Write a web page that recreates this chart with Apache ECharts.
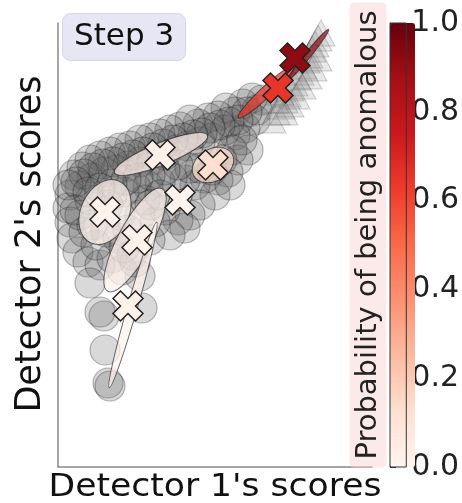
<!DOCTYPE html>
<html>
<head>
<meta charset="utf-8">
<script src="https://cdn.jsdelivr.net/npm/echarts@6/dist/echarts.min.js"></script>
<style>html,body{margin:0;padding:0;background:#fff;}#c{width:462px;height:503px;}</style>
</head>
<body>
<div id="c"></div>
<script>
// Normal points (circles): Detector 1 score, Detector 2 score
const circleX = [2.04,1.94,1.85,1.77,1.68,1.60,1.50,1.40,1.32,1.22,1.12,1.02,0.92,0.82,0.72,0.62,0.52,0.42,0.32,0.24,0.16,
  1.97,1.87,1.77,1.67,1.54,1.42,1.30,1.18,1.07,0.94,0.82,0.70,0.58,0.46,0.34,0.22,0.12,
  1.90,1.80,1.70,1.60,1.47,1.37,1.27,1.14,1.02,0.90,0.78,0.66,0.54,
  1.57,1.42,1.32,1.20,1.07,0.97,1.27,1.12,0.92,
  0.10,0.12,0.14,0.20,0.30,0.42,0.54,0.38,0.26,0.22,0.32,0.50,0.62,0.60,0.70,0.82,0.87,0.74,
  0.32,0.46,0.42,0.82,0.84,0.47,0.50,0.52,0.64,0.77,
  1.99,1.89,1.80,1.71,1.62,1.52,1.44,1.35,1.25,1.15,1.05,0.95,0.85,0.75,0.65,0.55,0.45,0.35,0.26,0.18,0.10,
  1.84,1.74,1.64,1.54,1.42,1.32,1.20,1.07,0.92,0.80,0.68,0.54,0.42,0.30,0.17,0.34,0.48,0.66,0.92,1.02,1.72];
const circleY = [3.67,3.69,3.63,3.55,3.59,3.51,3.49,3.43,3.47,3.40,3.37,3.33,3.29,3.27,3.21,3.19,3.15,3.11,3.07,3.00,2.92,
  3.47,3.39,3.32,3.37,3.29,3.25,3.21,3.17,3.12,3.07,3.05,3.01,2.97,2.95,2.89,2.81,2.72,
  3.17,3.07,2.95,2.87,2.89,2.82,2.87,2.89,2.85,2.81,2.79,2.75,2.72,
  2.72,2.62,2.52,2.47,2.57,2.45,2.39,2.32,2.27,
  2.59,2.45,2.29,2.15,2.05,2.02,2.09,2.22,2.35,2.52,2.67,2.62,2.52,2.29,2.37,2.52,2.67,2.12,
  1.84,1.51,1.55,1.91,1.59,1.17,0.84,0.81,1.97,2.05,
  3.57,3.55,3.47,3.45,3.42,3.39,3.34,3.32,3.29,3.27,3.23,3.19,3.15,3.12,3.09,3.05,3.03,2.99,2.93,2.85,2.82,
  3.27,3.17,3.07,2.97,2.99,2.99,3.02,2.97,2.92,2.89,2.87,2.83,2.79,2.75,2.57,2.42,2.35,2.19,2.62,2.72,2.82];
// Anomalous points (triangles)
const triX = [2.14,2.18,2.23,2.26,2.29,2.32,2.36,2.39,2.42,2.45,2.48,2.51,2.54,2.57,2.60,2.63,2.26,2.32,2.38,2.44,2.50,2.55,2.60,2.17,2.22];
const triY = [3.47,3.55,3.61,3.67,3.73,3.79,3.84,3.90,3.95,4.01,4.07,4.12,4.18,4.23,4.29,4.34,3.55,3.63,3.71,3.81,3.91,3.99,4.09,3.67,3.75];
// Mixture components (ellipses)
const ellCX = [1.03,1.55,0.47,1.22,0.77,0.75,2.08,2.50];
const ellCY = [3.13,3.02,2.55,2.67,2.27,1.62,3.75,4.12];
const ellRX = [0.50,0.22,0.34,0.14,0.58,0.86,0.38,0.33];
const ellRY = [0.11,0.16,0.24,0.09,0.17,0.05,0.055,0.03];
const ellAngle = [22,30,65,40,62,74,43,51];
const ellProb = [0.03,0.13,0.02,0.01,0.02,0.02,0.65,0.92];
// Component centres (X markers)
const markX = [1.02,1.55,0.47,1.22,0.79,0.70,2.20,2.37];
const markY = [3.12,3.02,2.55,2.67,2.27,1.61,3.79,4.09];
const markProb = [0.03,0.13,0.02,0.01,0.02,0.02,0.65,0.92];
// Colorbar
const cbTicks = [0.0,0.2,0.4,0.6,0.8,1.0];
const redsMap = ['#fff5f0','#fee0d2','#fcbba1','#fc9272','#fb6a4a','#ef3b2c','#cb181d','#a50f15','#67000d'];

const FONT = 'DejaVu Sans';
const circles = circleX.map((x,i)=>[x,circleY[i]]);
const tris = triX.map((x,i)=>[x,triY[i]]);
const ells = ellCX.map((x,i)=>[x,ellCY[i],ellProb[i],ellRX[i],ellRY[i],ellAngle[i]]);
const marks = markX.map((x,i)=>[x,markY[i],markProb[i]]);
const xPath = 'path://M0,-1L1,-2L2,-1L1,0L2,1L1,2L0,1L-1,2L-2,1L-1,0L-2,-1L-1,-2Z';

const chart = echarts.init(document.getElementById('c'), null, {renderer:'canvas'});
chart.setOption({
  animation:false,
  backgroundColor:'#ffffff',
  textStyle:{fontFamily:FONT},
  title:{
    text:'Step 3', left:62, top:13,
    backgroundColor:'#e6e6f5', borderColor:'#d6d6ea', borderWidth:1, borderRadius:8,
    padding:[8,12,9,12],
    textStyle:{fontFamily:FONT, fontSize:31, fontWeight:'normal', color:'#111'}
  },
  graphic:[
    {type:'text', x:215, y:488, z:10,
      style:{text:"Detector 1's scores", font:'32px "DejaVu Sans"', fill:'#111', align:'center', verticalAlign:'middle'},
      scaleX:1.08},
    {type:'text', x:31, y:244, rotation:Math.PI/2, z:10,
      style:{text:"Detector 2's scores", font:'35px "DejaVu Sans"', fill:'#111', align:'center', verticalAlign:'middle'}},
    {type:'text', x:368, y:235, rotation:Math.PI/2, z:10,
      style:{text:'Probability of being anomalous', font:'29px "DejaVu Sans"', fill:'#222', align:'center', verticalAlign:'middle',
        backgroundColor:'rgba(250,215,215,0.55)', borderRadius:5, padding:[4,8,4,8]}}
  ],
  grid:[
    {left:58, top:23, width:314, height:444},
    {left:390, top:23, width:25, height:444, show:true, borderColor:'#333', borderWidth:1, backgroundColor:'transparent', z:5}
  ],
  xAxis:[
    {gridIndex:0, type:'value', min:0, max:3.14,
      axisLine:{show:true, onZero:false, lineStyle:{color:'#888', width:1.5}},
      axisTick:{show:false}, axisLabel:{show:false}, splitLine:{show:false}},
    {gridIndex:1, type:'value', min:0, max:1, show:false}
  ],
  yAxis:[
    {gridIndex:0, type:'value', min:0, max:4.44,
      axisLine:{show:true, onZero:false, lineStyle:{color:'#888', width:1.5}},
      axisTick:{show:false}, axisLabel:{show:false}, splitLine:{show:false}},
    {gridIndex:1, type:'value', min:0, max:1, interval:0.2, position:'right',
      axisLine:{show:true, lineStyle:{color:'#333', width:1}},
      axisTick:{show:true, length:6, lineStyle:{color:'#333'}},
      axisLabel:{show:true, margin:5, fontFamily:FONT, fontSize:30, color:'#222',
        formatter:v=>{const t=cbTicks.find(c=>Math.abs(c-v)<1e-6); return t===undefined?'':t.toFixed(1);}},
      splitLine:{show:false}}
  ],
  visualMap:{
    type:'continuous', min:0, max:1, dimension:2, seriesIndex:[2,3],
    inRange:{color:redsMap}, calculable:false, hoverLink:false,
    left:390, top:23, itemWidth:25, itemHeight:444, padding:0, text:null, showLabel:false,
    orient:'vertical'
  },
  series:[
    {type:'scatter', xAxisIndex:0, yAxisIndex:0, data:circles, symbol:'circle', symbolSize:30, z:2,
      itemStyle:{color:'rgba(100,100,100,0.3)', borderColor:'rgba(0,0,0,0.35)', borderWidth:1.2}},
    {type:'scatter', xAxisIndex:0, yAxisIndex:0, data:tris, symbol:'triangle', symbolSize:[28,26], z:2,
      itemStyle:{color:'rgba(150,150,150,0.28)', borderColor:'rgba(60,60,60,0.3)', borderWidth:1}},
    {type:'custom', xAxisIndex:0, yAxisIndex:0, data:ells, z:3, encode:{x:0,y:1},
      renderItem:function(params, api){
        const c = api.coord([api.value(0), api.value(1)]);
        const s = api.size([api.value(3), api.value(4)]);
        return {type:'ellipse', x:c[0], y:c[1], rotation:api.value(5)*Math.PI/180,
          shape:{cx:0, cy:0, rx:s[0], ry:s[1]},
          style:{fill:api.visual('color'), opacity:0.72, stroke:'rgba(30,30,30,0.9)', lineWidth:1}};
      }},
    {type:'scatter', xAxisIndex:0, yAxisIndex:0, data:marks, symbol:xPath, symbolSize:30, z:4,
      itemStyle:{opacity:1, borderColor:'#222', borderWidth:1.5}}
  ]
});
</script>
</body>
</html>
